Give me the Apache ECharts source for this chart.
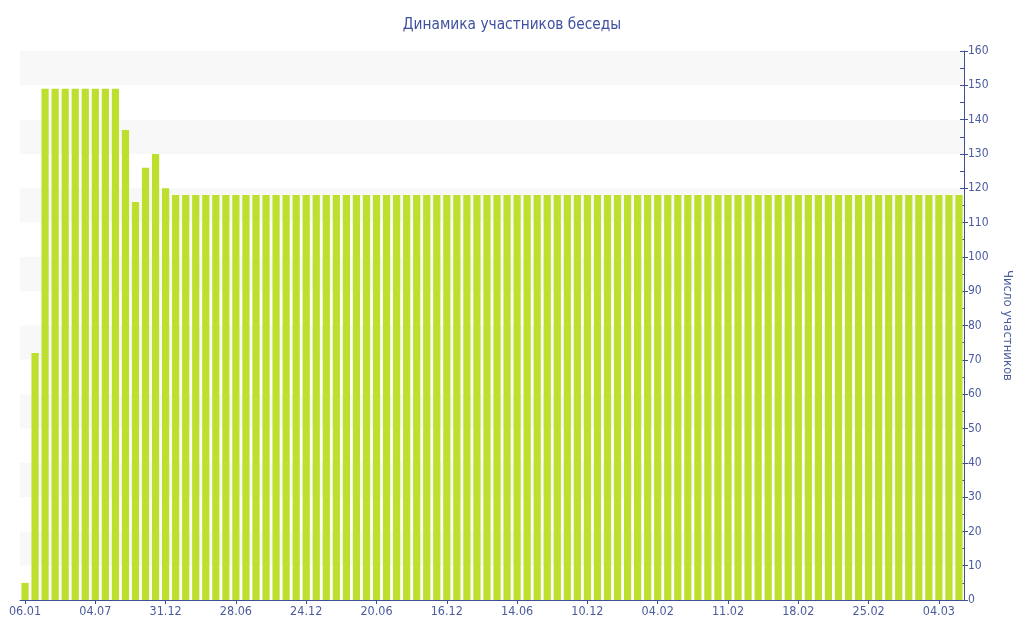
<!DOCTYPE html>
<html><head><meta charset="utf-8">
<script src="https://cdn.jsdelivr.net/npm/echarts@6/dist/echarts.min.js"></script>
<style>html,body{margin:0;padding:0;background:#fff}#c{width:1024px;height:640px}</style>
</head><body><div id="c"></div>
<script>
const title = 'Динамика участников беседы';
const yName = 'Число участников';
const categories = [
 '06.01',
 '01.02','27.02','24.03','19.04','15.05','09.06','04.07',
 '30.07','25.08','20.09','15.10','10.11','05.12','31.12',
 '26.01','20.02','18.03','12.04','08.05','02.06','28.06',
 '24.07','18.08','13.09','08.10','03.11','28.11','24.12',
 '19.01','13.02','11.03','05.04','01.05','26.05','20.06',
 '16.07','10.08','05.09','30.09','26.10','20.11','16.12',
 '11.01','05.02','03.03','28.03','23.04','19.05','14.06',
 '10.07','04.08','30.08','24.09','20.10','14.11','10.12',
 '18.12','26.12','03.01','11.01','19.01','27.01','04.02',
 '05.02','06.02','07.02','08.02','09.02','10.02','11.02',
 '12.02','13.02','14.02','15.02','16.02','17.02','18.02',
 '19.02','20.02','21.02','22.02','23.02','24.02','25.02',
 '26.02','27.02','28.02','01.03','02.03','03.03','04.03',
 '05.03','06.03'
];
const members = [
 5,72,149,149,149,149,149,149,149,149,137,116,126,130,120,
 118,118,118,118,118,118,118,118,118,118,118,118,118,118,118,
 118,118,118,118,118,118,118,118,118,118,118,118,118,118,118,
 118,118,118,118,118,118,118,118,118,118,118,118,118,118,118,
 118,118,118,118,118,118,118,118,118,118,118,118,118,118,118,
 118,118,118,118,118,118,118,118,118,118,118,118,118,118,118,
 118,118,118,118
];
const blue = '#3e4f94';
const txt = '#4b5b9c';
const font = 'DejaVu Sans Condensed, DejaVu Sans';
const chart = echarts.init(document.getElementById('c'), null, {renderer:'canvas'});
chart.setOption({
  animation:false,
  title:{text:title,left:'center',top:13,textStyle:{color:'#3f51a0',fontSize:15.3,fontWeight:'normal',fontFamily:font}},
  grid:{left:20,right:60,top:51,bottom:40},
  xAxis:{type:'category',data:categories,
    axisLine:{lineStyle:{color:blue,width:1}},
    axisTick:{show:true,alignWithLabel:true,interval:6,length:4,lineStyle:{color:blue}},
    axisLabel:{interval:6,color:txt,fontSize:12.5,fontFamily:font,margin:5},
    splitLine:{show:false}},
  yAxis:[{type:'value',position:'right',min:0,max:160,interval:10,
    name:yName,nameLocation:'middle',nameGap:37,nameRotate:-90,
    nameTextStyle:{color:txt,fontSize:13,fontFamily:font},
    axisLine:{show:true,lineStyle:{color:blue}},
    axisTick:{show:true,length:4,lineStyle:{color:blue}},
    axisLabel:{color:txt,fontSize:12,fontFamily:font,margin:4},
    splitLine:{show:false},
    splitArea:{show:true,areaStyle:{color:['#ffffff','#f8f8f8']}}},
   {type:'value',position:'right',min:0,max:160,interval:10,
    axisLine:{show:false},
    axisTick:{show:true,inside:true,length:4,lineStyle:{color:blue}},
    minorTick:{show:true,splitNumber:2,length:4,lineStyle:{color:blue}},
    axisLabel:{show:false},splitLine:{show:false}}],
  series:[{type:'bar',data:members,yAxisIndex:0,barCategoryGap:'28%',
    itemStyle:{color:'#bde02e'}}]
});
</script></body></html>
